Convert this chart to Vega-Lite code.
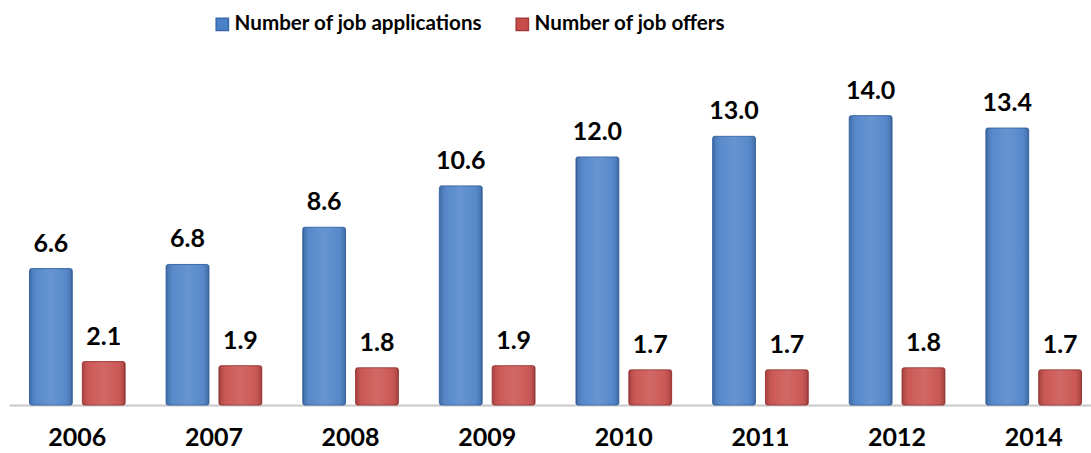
{
  "$schema": "https://vega.github.io/schema/vega-lite/v6.json",
  "autosize": "none",
  "width": 1093,
  "height": 310,
  "padding": {"left": 9, "top": 95, "right": 0, "bottom": 48},
  "background": "white",
  "data": {"values": [
    {"year": "2006", "series": "Number of job applications", "value": 6.6},
    {"year": "2006", "series": "Number of job offers", "value": 2.1},
    {"year": "2007", "series": "Number of job applications", "value": 6.8},
    {"year": "2007", "series": "Number of job offers", "value": 1.9},
    {"year": "2008", "series": "Number of job applications", "value": 8.6},
    {"year": "2008", "series": "Number of job offers", "value": 1.8},
    {"year": "2009", "series": "Number of job applications", "value": 10.6},
    {"year": "2009", "series": "Number of job offers", "value": 1.9},
    {"year": "2010", "series": "Number of job applications", "value": 12.0},
    {"year": "2010", "series": "Number of job offers", "value": 1.7},
    {"year": "2011", "series": "Number of job applications", "value": 13.0},
    {"year": "2011", "series": "Number of job offers", "value": 1.7},
    {"year": "2012", "series": "Number of job applications", "value": 14.0},
    {"year": "2012", "series": "Number of job offers", "value": 1.8},
    {"year": "2014", "series": "Number of job applications", "value": 13.4},
    {"year": "2014", "series": "Number of job offers", "value": 1.7}
  ]},
  "encoding": {
    "x": {"field": "year", "type": "nominal", "sort": null,
      "scale": {"paddingInner": 0.3, "paddingOuter": 0.15},
      "axis": {"title": null, "labelAngle": 0, "labelFontSize": 25, "labelFontWeight": "bold", "labelFont": "Lato", "labelColor": "#000000", "labelPadding": 20, "ticks": false, "domainColor": "#c8c8c8", "domainWidth": 2}},
    "xOffset": {"field": "series", "type": "nominal", "sort": ["Number of job applications", "Number of job offers"],
      "scale": {"paddingInner": 0.19, "paddingOuter": 0}},
    "y": {"field": "value", "type": "quantitative", "scale": {"domain": [0, 15], "nice": false}, "axis": null}
  },
  "layer": [
    {
      "mark": {"type": "bar", "cornerRadius": 2, "strokeWidth": 1},
      "encoding": {
        "color": {"field": "series", "type": "nominal",
          "scale": {"domain": ["Number of job applications", "Number of job offers"], "range": ["#4a80c8", "#c84c49"]},
          "legend": {"title": null, "orient": "none", "legendX": 203, "legendY": -81, "direction": "horizontal", "columns": 2, "columnPadding": 29, "symbolType": "square", "symbolSize": 150, "symbolOpacity": 1, "labelFontSize": 20.6, "labelFont": "Lato", "labelFontWeight": "bold", "labelColor": "#000000", "labelLimit": 0, "symbolOffset": 0, "labelOffset": 2}},
        "stroke": {"field": "series", "type": "nominal", "scale": {"domain": ["Number of job applications", "Number of job offers"], "range": ["#3a68a8", "#a03a38"]}, "legend": null}
      }
    },
    {
      "mark": {"type": "bar", "cornerRadius": 2, "fill": {"gradient": "linear", "x1": 0, "y1": 0, "x2": 1, "y2": 0, "stops": [
        {"offset": 0, "color": "rgba(0,0,0,0.18)"},
        {"offset": 0.18, "color": "rgba(255,255,255,0.08)"},
        {"offset": 0.5, "color": "rgba(255,255,255,0.16)"},
        {"offset": 0.82, "color": "rgba(255,255,255,0.08)"},
        {"offset": 1, "color": "rgba(0,0,0,0.18)"}]}}
    },
    {
      "mark": {"type": "text", "baseline": "alphabetic", "dy": -17, "fontSize": 25, "fontWeight": "bold", "font": "Lato", "color": "#000000"},
      "encoding": {"text": {"field": "value", "type": "quantitative", "format": ".1f"}}
    }
  ],
  "config": {"view": {"stroke": null}}
}
